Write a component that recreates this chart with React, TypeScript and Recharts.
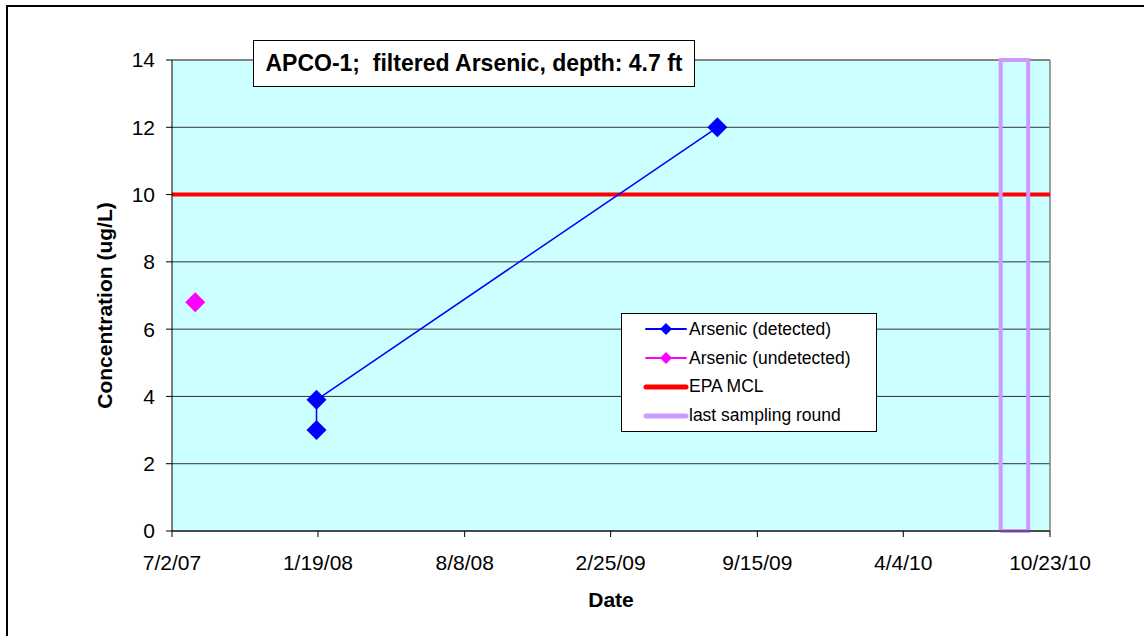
import { LineChart, Line, CartesianGrid, XAxis, YAxis, ReferenceLine, Label } from "recharts";

// sample dates (m/d/yy) and concentrations, ug/L
const detectedDates = ["1/17/08", "1/17/08", "7/22/09"];
const detectedValues = [3.0, 3.9, 12];
const undetectedDates = ["8/3/07"];
const undetectedValues = [6.8];
const mclDates = ["7/2/07", "10/23/10"];
const mclValues = [10, 10];
const lastRoundDates = ["8/16/10", "8/16/10", "9/23/10", "9/23/10", "8/16/10"];
const lastRoundValues = [0, 14, 14, 0, 0];
const xTickLabels = ["7/2/07", "1/19/08", "8/8/08", "2/25/09", "9/15/09", "4/4/10", "10/23/10"];
const yTicks = [0, 2, 4, 6, 8, 10, 12, 14];

const toDay = (s: string) => {
  const [m, d, y] = s.split("/").map(Number);
  return Date.UTC(2000 + y, m - 1, d) / 86400000;
};
const fmtDay = (n: number) => {
  const dt = new Date(Math.round(n) * 86400000);
  return `${dt.getUTCMonth() + 1}/${dt.getUTCDate()}/${String(dt.getUTCFullYear() % 100).padStart(2, "0")}`;
};
const series = (dates: string[], vals: number[]) => dates.map((d, i) => ({ x: toDay(d), y: vals[i] }));

const detected = series(detectedDates, detectedValues);
const undetected = series(undetectedDates, undetectedValues);
const mcl = series(mclDates, mclValues);
const lastRound = series(lastRoundDates, lastRoundValues);
const xTicks = xTickLabels.map(toDay);

const diamond = (color: string, r: number) => (p: any) => {
  const { cx, cy, index } = p;
  if (cx == null || cy == null) return <g key={index} />;
  return <polygon key={index} points={`${cx},${cy - r} ${cx + r},${cy} ${cx},${cy + r} ${cx - r},${cy}`} fill={color} />;
};

const font = "Arial, 'Liberation Sans', sans-serif";

const legendItems = [
  { name: "Arsenic (detected)", color: "#0000FF", width: 2, marker: true },
  { name: "Arsenic (undetected)", color: "#FF00FF", width: 2, marker: true },
  { name: "EPA MCL", color: "#FF0000", width: 5, marker: false },
  { name: "last sampling round", color: "#CC99FF", width: 5, marker: false },
];

function LegendBox() {
  return (
    <div style={{ position: "absolute", left: 621, top: 313, border: "1px solid #000", background: "#fff", width: 256, height: 119, boxSizing: "border-box", padding: "1px 0 0 0", fontFamily: font, fontSize: 17.5 }}>
      {legendItems.map((it) => (
        <div key={it.name} style={{ display: "flex", alignItems: "center", height: 28.8 }}>
          <svg width={67} height={20} style={{ flex: "none" }}>
            <line x1={24} y1={10} x2={64} y2={10} stroke={it.color} strokeWidth={it.width} strokeLinecap="round" />
            {it.marker && <polygon points="44,4 50,10 44,16 38,10" fill={it.color} />}
          </svg>
          <span style={{ color: "#000" }}>{it.name}</span>
        </div>
      ))}
    </div>
  );
}

const yTitle = (props: any) => {
  const vb = props.viewBox;
  const cx = vb.x + 20;
  const cy = vb.y + vb.height / 2 + 10;
  return (
    <text x={cx} y={cy} transform={`rotate(-90 ${cx} ${cy})`} textAnchor="middle" fontWeight="bold" fontSize={21} fill="#000">
      Concentration (ug/L)
    </text>
  );
};

export default function App() {
  return (
    <div style={{ position: "absolute", left: 0, top: 0, width: 1144, height: 636, overflow: "hidden", background: "#fff" }}>
      <div style={{ position: "absolute", left: 6, top: 5, width: 1160, height: 660, border: "2px solid #000" }} />
      <div style={{ position: "absolute", left: 0, top: 0 }}>
        <LineChart width={1144} height={636} margin={{ top: 60, right: 94, bottom: 25, left: 92 }} style={{ fontFamily: font }}>
          <CartesianGrid vertical={false} fill="#CCFFFF" stroke="#333" fillOpacity={1} />
          <XAxis
            dataKey="x"
            type="number"
            domain={[xTicks[0], xTicks[xTicks.length - 1]]}
            ticks={xTicks}
            tickFormatter={fmtDay}
            allowDuplicatedCategory={false}
            height={80}
            stroke="#000"
            tickSize={6}
            tickMargin={18}
            tick={{ fill: "#000", fontSize: 21 }}
          >
            <Label value="Date" position="insideBottom" offset={4} style={{ fontWeight: "bold", fontSize: 21, fill: "#000" }} />
          </XAxis>
          <YAxis
            dataKey="y"
            type="number"
            domain={[0, 14]}
            ticks={yTicks}
            width={80}
            stroke="#000"
            tickSize={6}
            tickMargin={11}
            tick={{ fill: "#000", fontSize: 21 }}
          >
            <Label content={yTitle} />
          </YAxis>
          <ReferenceLine y={14} stroke="#808080" strokeWidth={1.5} />
          <ReferenceLine x={xTicks[xTicks.length - 1]} stroke="#808080" strokeWidth={1.5} />
          <Line data={mcl} dataKey="y" name="EPA MCL" stroke="#FF0000" strokeWidth={4} dot={false} isAnimationActive={false} />
          <Line data={lastRound} dataKey="y" name="last sampling round" stroke="#CC99FF" strokeWidth={4} dot={false} isAnimationActive={false} />
          <Line data={detected} dataKey="y" name="Arsenic (detected)" stroke="#0000FF" strokeWidth={1.5} dot={diamond("#0000FF", 10)} isAnimationActive={false} />
          <Line data={undetected} dataKey="y" name="Arsenic (undetected)" stroke="#FF00FF" strokeWidth={1.5} dot={diamond("#FF00FF", 10)} isAnimationActive={false} />
        </LineChart>
      </div>
      <LegendBox />
      <div style={{ position: "absolute", left: 253, top: 40, width: 442, height: 47, boxSizing: "border-box", border: "1.5px solid #000", background: "#fff", fontFamily: font, fontWeight: "bold", fontSize: 23, whiteSpace: "pre", display: "flex", alignItems: "center", justifyContent: "center", color: "#000" }}>
        {"APCO-1;  filtered Arsenic, depth: 4.7 ft"}
      </div>
    </div>
  );
}
